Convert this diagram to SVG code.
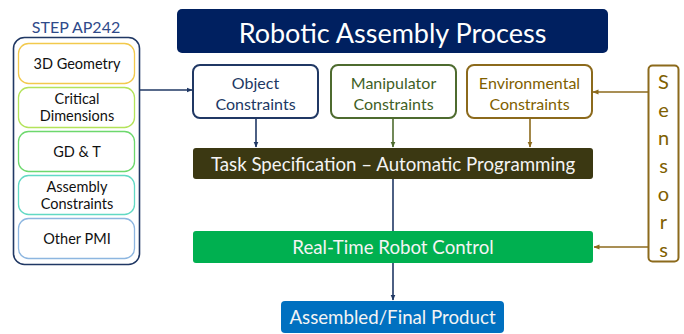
<svg xmlns="http://www.w3.org/2000/svg" width="684" height="334" viewBox="0 0 684 334">
<style>
text{font-family:Lato,"Open Sans","Liberation Sans",sans-serif;text-anchor:middle;dominant-baseline:central}
.inner{fill:#fff;stroke-width:1.3}
.it{font-size:14.5px;fill:#111}
.cb{fill:#fff;stroke-width:2}
.ct{font-size:16px}
.bar{stroke:none}
.bt{fill:#f4f4f4;font-size:18.7px}
.sl{font-size:20px;fill:#7F6000}
</style>
<defs>
<marker id="an" viewBox="0 0 6 6" refX="5.5" refY="3" markerWidth="6" markerHeight="6" markerUnits="userSpaceOnUse" orient="auto"><path d="M0,0.5 L6,3 L0,5.5z" fill="#203864"/></marker>
<marker id="ag" viewBox="0 0 6 6" refX="5.5" refY="3" markerWidth="6" markerHeight="6" markerUnits="userSpaceOnUse" orient="auto"><path d="M0,0.5 L6,3 L0,5.5z" fill="#4E6B2F"/></marker>
<marker id="ao" viewBox="0 0 6 6" refX="5.5" refY="3" markerWidth="6" markerHeight="6" markerUnits="userSpaceOnUse" orient="auto"><path d="M0,0.5 L6,3 L0,5.5z" fill="#8C6A1C"/></marker>
</defs>
<rect width="684" height="334" fill="#fff"/>

<g id="step">
<text x="76" y="26" style="font-size:16px;fill:#2F4A8A">STEP AP242</text>
<rect x="13.5" y="37.5" width="126" height="227" rx="11" fill="#fff" stroke="#203864" stroke-width="1.6"/>
<g id="geom"><rect class="inner" x="18.5" y="43.5" width="116" height="40" rx="10" stroke="#F2C94C"/><text class="it" x="77" y="63.5">3D Geometry</text></g>
<g id="crit"><rect class="inner" x="18.5" y="87.5" width="116" height="40" rx="10" stroke="#B3E35A"/><text class="it" x="77" y="98.5">Critical</text><text class="it" x="77" y="115.5">Dimensions</text></g>
<g id="gdt"><rect class="inner" x="18.5" y="131.5" width="116" height="40" rx="10" stroke="#6DD86D"/><text class="it" x="77" y="151.5">GD &amp; T</text></g>
<g id="asm"><rect class="inner" x="18.5" y="175.5" width="116" height="39" rx="10" stroke="#62D9C4"/><text class="it" x="77" y="186">Assembly</text><text class="it" x="77" y="203">Constraints</text></g>
<g id="pmi"><rect class="inner" x="18.5" y="218.5" width="116" height="40" rx="10" stroke="#8DB6E0"/><text class="it" x="77" y="238.5">Other PMI</text></g>
</g>

<g id="title"><rect x="177" y="9" width="431" height="44" rx="5" fill="#002060"/><text x="392.5" y="32" style="font-size:27px;fill:#fff">Robotic Assembly Process</text></g>

<g id="obj"><rect class="cb" x="193" y="65" width="125" height="53" rx="7" stroke="#203864"/><text class="ct" x="255.5" y="82" fill="#203864">Object</text><text class="ct" x="255.5" y="103" fill="#203864">Constraints</text></g>
<g id="man"><rect class="cb" x="331" y="65" width="125" height="53" rx="7" stroke="#4E6B2F"/><text class="ct" x="393.5" y="82" fill="#3F5F26">Manipulator</text><text class="ct" x="393.5" y="103" fill="#3F5F26">Constraints</text></g>
<g id="env"><rect class="cb" x="467" y="65" width="125" height="53" rx="7" stroke="#8C6A1C"/><text class="ct" x="529.5" y="82" fill="#7F6000">Environmental</text><text class="ct" x="529.5" y="103" fill="#7F6000">Constraints</text></g>

<g id="sensors"><rect x="648.5" y="65.5" width="30" height="196" rx="4" fill="#fff" stroke="#8C6A1C" stroke-width="2"/>
<text class="sl" x="663.5" y="81">S</text><text class="sl" x="663.5" y="109">e</text><text class="sl" x="663.5" y="137">n</text><text class="sl" x="663.5" y="165">s</text><text class="sl" x="663.5" y="193">o</text><text class="sl" x="663.5" y="221">r</text><text class="sl" x="663.5" y="249">s</text></g>

<g id="task"><rect class="bar" x="193" y="148" width="400" height="31" rx="3" fill="#3B3812"/><text class="bt" x="393" y="163.5">Task Specification – Automatic Programming</text></g>
<g id="rt"><rect class="bar" x="193" y="231" width="400" height="32" rx="3" fill="#00B050"/><text class="bt" x="393" y="247">Real-Time Robot Control</text></g>
<g id="prod"><rect class="bar" x="281" y="301" width="223" height="32" rx="4" fill="#0070C0"/><text class="bt" x="392.5" y="317">Assembled/Final Product</text></g>

<g id="connectors" fill="none" stroke-width="1.6">
<path d="M140,90 H192" stroke="#203864" marker-end="url(#an)"/>
<path d="M256,118 V147" stroke="#203864" marker-end="url(#an)"/>
<path d="M393,118 V147" stroke="#4E6B2F" marker-end="url(#ag)"/>
<path d="M530,118 V147" stroke="#8C6A1C" marker-end="url(#ao)"/>
<path d="M393,179 V231" stroke="#203864"/>
<path d="M393,263 V300" stroke="#203864" marker-end="url(#an)"/>
<path d="M648,92 H593" stroke="#8C6A1C" marker-end="url(#ao)"/>
<path d="M648,247 H594" stroke="#8C6A1C" marker-end="url(#ao)"/>
</g>
</svg>
